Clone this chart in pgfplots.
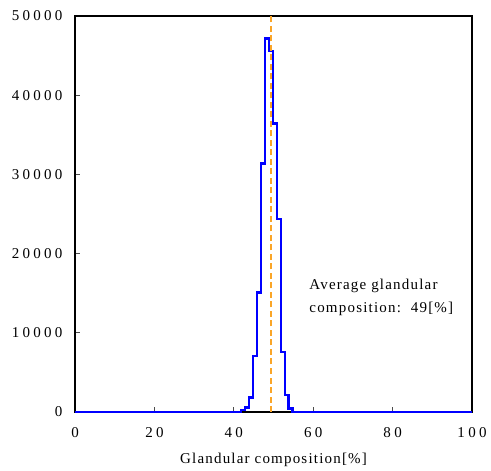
\documentclass[border=0pt]{standalone}
\usepackage{fontspec}
\setmainfont[LetterSpace=8]{Liberation Serif}
\newfontfamily\tickfont[LetterSpace=22]{Liberation Serif}
\usepackage{pgfplots}
\pgfplotsset{compat=1.18}
\definecolor{histblue}{RGB}{0,0,255}
\definecolor{avgorange}{RGB}{250,165,40}
\begin{document}
\begin{tikzpicture}
\begin{axis}[
  scale only axis, width=397pt, height=396pt,
  xmin=0, xmax=100, ymin=0, ymax=50000,
  xtick={0,20,...,100}, ytick={0,10000,...,50000},
  tick align=inside, xtick pos=bottom, ytick pos=left,
  major tick length=5pt,
  axis line style={line width=1.5pt},
  tick style={line width=0.8pt, black!70},
  scaled y ticks=false,
  /pgf/number format/assume math mode=true,
  /pgf/number format/1000 sep={},
  tick label style={font=\tickfont\fontsize{15}{17}\selectfont},
  label style={font=\fontsize{15}{17}\selectfont},
  xlabel={Glandular composition[\%]},
  xticklabel style={yshift=-12pt},
  yticklabel style={xshift=-9pt},
  xlabel style={yshift=-9pt},
  clip=false,
]
\coordinate (ll) at (rel axis cs:0,0);
\coordinate (ur) at (rel axis cs:1,1);
\addplot[const plot mark left, histblue, line width=2.6pt, line join=miter] coordinates {
(0,0) (41.85,250) (42.85,540) (43.85,1800) (44.85,7070) (45.85,15060)
(46.85,31400) (47.85,47180) (48.85,45580) (49.85,36450) (50.85,24370)
(51.85,7580) (52.85,2150) (53.85,470) (54.85,0) (100,0)
};
\addplot[avgorange, line width=1.8pt, dash pattern=on 6pt off 3.5pt] coordinates {(49.4,0) (49.4,50000)};
\node[anchor=north west, align=left, inner sep=0pt, font=\fontsize{15}{23}\selectfont]
  at (axis cs:59,16800) {Average glandular\\composition:\ \ 49[\%]};
\end{axis}
\pgfresetboundingbox
\path ([shift={(-75pt,-58pt)}]ll) rectangle ([shift={(19pt,16pt)}]ur);
\end{tikzpicture}
\end{document}
